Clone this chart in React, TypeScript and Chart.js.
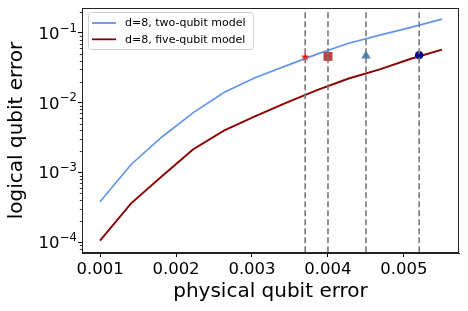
import React, { useEffect, useRef } from "react";
import { Chart, registerables } from "chart.js";

Chart.register(...registerables);

// ---- data ----
const X_VALUES = [0.001, 0.0014091, 0.0018182, 0.0022273, 0.0026364, 0.0030455, 0.0034545, 0.0038636, 0.0042727, 0.0046818, 0.0050909, 0.0055];
const TWO_QUBIT = [3.8e-4, 1.3e-3, 3.25e-3, 7.2e-3, 0.0141, 0.023, 0.034, 0.05, 0.071, 0.093, 0.12, 0.158];
const FIVE_QUBIT = [1.05e-4, 3.6e-4, 8.9e-4, 2.15e-3, 4.0e-3, 6.4e-3, 0.01, 0.0153, 0.0222, 0.03, 0.0426, 0.0575];
const SERIES_LABELS = ["d=8, two-qubit model", "d=8, five-qubit model"];
const THRESHOLDS = [0.0037, 0.004, 0.0045, 0.0052];
const MARKER_Y = [0.045, 0.046, 0.047, 0.048];
const X_TICKS = [0.001, 0.002, 0.003, 0.004, 0.005];
const X_TICK_LABELS = ["0.001", "0.002", "0.003", "0.004", "0.005"];
const Y_TICKS = [1e-4, 1e-3, 1e-2, 1e-1];
const Y_TICK_BASE = "10";
const Y_TICK_EXPONENTS = ["\u22124", "\u22123", "\u22122", "\u22121"];
const X_MIN = 0.000763;
const X_MAX = 0.005724;
const Y_MIN = 7.2e-5;
const Y_MAX = 0.2276;

const FONT = "'DejaVu Sans', 'Liberation Sans', sans-serif";

function makeStar(color: string, r: number) {
  const size = Math.ceil(r * 2 + 2);
  const c = document.createElement("canvas");
  c.width = size;
  c.height = size;
  const g = c.getContext("2d")!;
  const cx = size / 2, cy = size / 2;
  g.beginPath();
  for (let i = 0; i < 10; i++) {
    const rad = i % 2 === 0 ? r : r * 0.42;
    const a = -Math.PI / 2 + (i * Math.PI) / 5;
    const px = cx + rad * Math.cos(a);
    const py = cy + rad * Math.sin(a);
    if (i === 0) g.moveTo(px, py);
    else g.lineTo(px, py);
  }
  g.closePath();
  g.fillStyle = color;
  g.fill();
  return c;
}

export default function App() {
  const ref = useRef<HTMLCanvasElement | null>(null);

  useEffect(() => {
    if (!ref.current) return;
    const star = makeStar("#ff0000", 4.4);

    const boxAndLegend = {
      id: "boxAndLegend",
      afterDraw(chart: any) {
        const { ctx, chartArea } = chart;
        const ys = chart.scales.y;
        ctx.save();
        // minor ticks on log axis
        ctx.strokeStyle = "#000";
        ctx.lineWidth = 0.8;
        for (let n = -5; n <= 0; n++) {
          for (let k = 2; k <= 9; k++) {
            const v = k * Math.pow(10, n);
            if (v < Y_MIN || v > Y_MAX) continue;
            const py = Math.round(ys.getPixelForValue(v)) + 0.5;
            ctx.beginPath();
            ctx.moveTo(chartArea.left - 2.2, py);
            ctx.lineTo(chartArea.left, py);
            ctx.stroke();
          }
        }
        // y tick labels with superscript exponent
        ctx.fillStyle = "#000";
        ctx.textAlign = "left";
        ctx.textBaseline = "alphabetic";
        const right = chartArea.left - 5;
        Y_TICKS.forEach((v, i) => {
          const py = ys.getPixelForValue(v);
          ctx.font = `11.6px ${FONT}`;
          const supW = ctx.measureText(Y_TICK_EXPONENTS[i]).width;
          const supX = right - supW;
          ctx.fillText(Y_TICK_EXPONENTS[i], supX, py - 1.4);
          ctx.font = `16.5px ${FONT}`;
          const baseW = ctx.measureText(Y_TICK_BASE).width;
          ctx.fillText(Y_TICK_BASE, supX - baseW - 0.5, py + 6);
        });

        // frame
        ctx.lineWidth = 1;
        ctx.strokeStyle = "#222";
        ctx.strokeRect(chartArea.left + 0.5, chartArea.top + 0.5, chartArea.right - chartArea.left - 1, chartArea.bottom - chartArea.top - 1);

        // legend
        const lx = chartArea.left + 6.5;
        const ly = chartArea.top + 4.5;
        const lw = 165;
        const lh = 37;
        ctx.beginPath();
        (ctx as any).roundRect(lx, ly, lw, lh, 3);
        ctx.fillStyle = "rgba(255,255,255,0.85)";
        ctx.fill();
        ctx.strokeStyle = "#d0d0d0";
        ctx.lineWidth = 1;
        ctx.stroke();
        const items = [chart.data.datasets[5], chart.data.datasets[6]];
        ctx.font = `11px ${FONT}`;
        ctx.textBaseline = "middle";
        ctx.textAlign = "left";
        items.forEach((ds: any, i: number) => {
          const yy = ly + 10.5 + i * 16.3;
          ctx.beginPath();
          ctx.strokeStyle = ds.borderColor;
          ctx.lineWidth = 1.8;
          ctx.moveTo(lx + 3.5, yy);
          ctx.lineTo(lx + 27.5, yy);
          ctx.stroke();
          ctx.fillStyle = "#000";
          ctx.fillText(ds.label, lx + 36.5, yy + 0.5);
        });
        ctx.restore();
      },
    };

    const dashed = THRESHOLDS.map((t) => ({
      type: "line" as const,
      label: "threshold",
      data: [
        { x: t, y: Y_MIN },
        { x: t, y: Y_MAX },
      ],
      borderColor: "rgba(120,120,120,1)",
      borderWidth: 1.6,
      borderDash: [6, 3],
      pointRadius: 0,
      order: 0,
    }));

    const markerStyles: any[] = [star, "rect", "triangle", "circle"];
    const markerColors = ["#ff0000", "rgba(178,34,34,0.85)", "#4682b4", "#000080"];
    const markerRadius = [4.4, 6.3, 5.4, 4.2];

    const chart = new Chart(ref.current, {
      type: "line",
      data: {
        datasets: [
          ...dashed,
          {
            type: "scatter",
            label: "thresholds",
            data: THRESHOLDS.map((t, i) => ({ x: t, y: MARKER_Y[i] })),
            pointStyle: markerStyles,
            pointBackgroundColor: markerColors,
            pointBorderColor: markerColors,
            pointBorderWidth: 0,
            pointRadius: markerRadius,
            showLine: false,
            order: 1,
          } as any,
          {
            label: SERIES_LABELS[0],
            data: X_VALUES.map((x, i) => ({ x, y: TWO_QUBIT[i] })),
            borderColor: "#6495ed",
            borderWidth: 1.7,
            pointRadius: 0,
            tension: 0,
            order: 2,
          },
          {
            label: SERIES_LABELS[1],
            data: X_VALUES.map((x, i) => ({ x, y: FIVE_QUBIT[i] })),
            borderColor: "#8b0000",
            borderWidth: 1.9,
            pointRadius: 0,
            tension: 0,
            order: 2,
          },
        ],
      },
      options: {
        animation: false,
        responsive: false,
        devicePixelRatio: 1,
        layout: { padding: { top: 8, right: 9, left: 0, bottom: 0 } },
        plugins: {
          legend: { display: false },
          tooltip: { enabled: false },
          title: { display: false },
        },
        scales: {
          x: {
            type: "linear",
            min: X_MIN,
            max: X_MAX,
            afterBuildTicks: (s: any) => {
              s.ticks = X_TICKS.map((v) => ({ value: v }));
            },
            afterFit: (s: any) => {
              s.height = 58;
              s.paddingLeft = 0;
              s.paddingRight = 0;
            },
            ticks: {
              autoSkip: false,
              maxRotation: 0,
              padding: 3,
              color: "#000",
              font: { family: FONT, size: 16.5 },
              callback: (_v: any, i: number) => X_TICK_LABELS[i],
            },
            grid: { drawOnChartArea: false, drawTicks: true, tickLength: 4, tickColor: "#000", tickWidth: 1 },
            border: { display: true, color: "#222", width: 1 },
            title: {
              display: true,
              text: "physical qubit error",
              color: "#000",
              font: { family: FONT, size: 20 },
              padding: { top: 0, bottom: 7 },
            },
          },
          y: {
            type: "logarithmic",
            min: Y_MIN,
            max: Y_MAX,
            afterBuildTicks: (s: any) => {
              s.ticks = Y_TICKS.map((v) => ({ value: v, major: true }));
            },
            afterFit: (s: any) => {
              s.width = 82;
              s.paddingTop = 0;
              s.paddingBottom = 0;
            },
            ticks: {
              autoSkip: false,
              padding: 2,
              color: "#000",
              font: { family: FONT, size: 16.5 },
              callback: () => "",
            },
            grid: { drawOnChartArea: false, drawTicks: true, tickLength: 4, tickColor: "#000", tickWidth: 1 },
            border: { display: true, color: "#222", width: 1 },
            title: {
              display: true,
              text: "logical qubit error",
              color: "#000",
              font: { family: FONT, size: 20 },
              padding: { top: 5, bottom: 0 },
            },
          },
        },
      } as any,
      plugins: [boxAndLegend],
    });

    return () => chart.destroy();
  }, []);

  return (
    <div style={{ position: "absolute", left: 0, top: 0, width: 468, height: 311, background: "#fff" }}>
      <canvas ref={ref} width={468} height={311} />
    </div>
  );
}
